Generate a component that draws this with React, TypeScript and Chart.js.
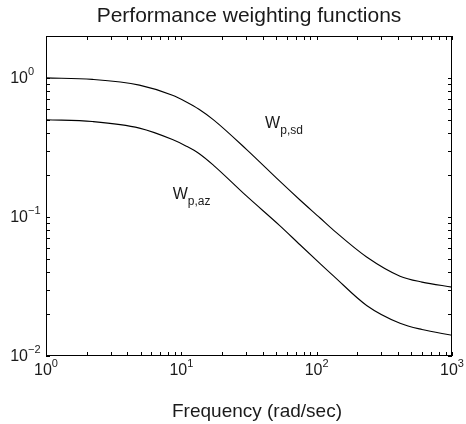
import React, { useEffect, useRef } from "react";
import { Chart, registerables } from "chart.js";

Chart.register(...registerables);

// Frequency samples (rad/sec)
const FREQ = [1, 2.2, 4.9, 8.6, 10.8, 13.5, 17.3, 30.4, 53.6, 75.3, 106, 133, 234, 413, 600, 1000];
// W_p,sd magnitude
const W_SD = [1.0, 0.975, 0.887, 0.75, 0.674, 0.595, 0.499, 0.305, 0.18, 0.1324, 0.0982, 0.0804, 0.0515, 0.0375, 0.034, 0.0313];
// W_p,az magnitude
const W_AZ = [0.5, 0.485, 0.435, 0.36, 0.324, 0.286, 0.235, 0.141, 0.0863, 0.0631, 0.0462, 0.0377, 0.0231, 0.0172, 0.0155, 0.0141];

const X_TICK_EXP = [0, 1, 2, 3];
const Y_TICK_EXP = [-2, -1, 0];

// In-plot text labels (anchored in data coordinates)
const LABEL_MAIN = ["W", "W"];
const LABEL_SUB = ["p,sd", "p,az"];
const LABEL_X = [41.6, 8.64];
const LABEL_Y = [0.434, 0.134];

const TITLE = "Performance weighting functions";
const X_LABEL = "Frequency (rad/sec)";

const FONT = "'Liberation Sans', Arial, Helvetica, sans-serif";
const TEXT_COLOR = "#1a1a1a";

const decorPlugin = {
  id: "decor",
  afterDraw(chart: any) {
    const { ctx, chartArea } = chart;
    const { left, right, top, bottom } = chartArea;
    const xs = chart.scales.x;
    const ys = chart.scales.y;
    ctx.save();
    ctx.strokeStyle = "#000";
    ctx.lineWidth = 1;
    ctx.strokeRect(Math.round(left) + 0.5, Math.round(top) + 0.5, Math.round(right - left) - 1, Math.round(bottom - top) - 1);

    const tl = 4;
    ctx.beginPath();
    for (let k = 0; k <= 3; k++) {
      for (let m = 1; m <= 9; m++) {
        const v = m * Math.pow(10, k);
        if (v > xs.max + 1e-9) continue;
        const px = Math.round(xs.getPixelForValue(v)) + 0.5;
        ctx.moveTo(px, bottom);
        ctx.lineTo(px, bottom - tl);
        ctx.moveTo(px, top);
        ctx.lineTo(px, top + tl);
      }
    }
    for (let k = -2; k <= 0; k++) {
      for (let m = 1; m <= 9; m++) {
        const v = m * Math.pow(10, k);
        if (v > ys.max + 1e-9) continue;
        const py = Math.round(ys.getPixelForValue(v)) + 0.5;
        ctx.moveTo(left, py);
        ctx.lineTo(left + tl, py);
        ctx.moveTo(right, py);
        ctx.lineTo(right - tl, py);
      }
    }
    ctx.stroke();

    ctx.fillStyle = TEXT_COLOR;
    ctx.textBaseline = "alphabetic";
    const mainFont = `16px ${FONT}`;
    const supFont = `11px ${FONT}`;

    // x tick labels
    X_TICK_EXP.forEach((e) => {
      const px = xs.getPixelForValue(Math.pow(10, e));
      ctx.font = mainFont;
      const w1 = ctx.measureText("10").width;
      ctx.font = supFont;
      const sup = e < 0 ? "\u2212" + Math.abs(e) : String(e);
      const w2 = ctx.measureText(sup).width;
      const x0 = px - (w1 + w2) / 2;
      const base = bottom + 19;
      ctx.font = mainFont;
      ctx.textAlign = "left";
      ctx.fillText("10", x0, base);
      ctx.font = supFont;
      ctx.fillText(sup, x0 + w1, base - 8);
    });

    // y tick labels
    Y_TICK_EXP.forEach((e) => {
      const py = ys.getPixelForValue(Math.pow(10, e));
      ctx.font = mainFont;
      const w1 = ctx.measureText("10").width;
      const x0 = left - 18 - w1;
      const base = py + 5;
      ctx.textAlign = "left";
      ctx.fillText("10", x0, base);
      ctx.font = supFont;
      const sup = e < 0 ? "\u2212" + Math.abs(e) : String(e);
      ctx.fillText(sup, x0 + w1, base - 8);
    });

    // in-plot labels
    LABEL_MAIN.forEach((t, i) => {
      const px = xs.getPixelForValue(LABEL_X[i]);
      const py = ys.getPixelForValue(LABEL_Y[i]);
      ctx.font = `16px ${FONT}`;
      ctx.textAlign = "left";
      ctx.fillText(t, px, py);
      const w = ctx.measureText(t).width;
      ctx.font = `12px ${FONT}`;
      ctx.fillText(LABEL_SUB[i], px + w, py + 6);
    });

    // title
    const cx = (left + right) / 2;
    ctx.font = `21px ${FONT}`;
    ctx.textAlign = "center";
    ctx.fillText(TITLE, cx, 22);

    // x label
    ctx.font = `19px ${FONT}`;
    ctx.fillText(X_LABEL, cx + 8, 417);
    ctx.restore();
  },
};

export default function App() {
  const ref = useRef<HTMLCanvasElement | null>(null);
  useEffect(() => {
    document.body.style.margin = "0";
    if (!ref.current) return;
    const chart = new Chart(ref.current, {
      type: "line",
      data: {
        datasets: [
          {
            label: "W_p,sd",
            data: FREQ.map((f, i) => ({ x: f, y: W_SD[i] })),
            borderColor: "#000",
            borderWidth: 1.1,
            pointRadius: 0,
            cubicInterpolationMode: "monotone",
            fill: false,
          },
          {
            label: "W_p,az",
            data: FREQ.map((f, i) => ({ x: f, y: W_AZ[i] })),
            borderColor: "#000",
            borderWidth: 1.1,
            pointRadius: 0,
            cubicInterpolationMode: "monotone",
            fill: false,
          },
        ],
      },
      options: {
        animation: false,
        responsive: false,
        devicePixelRatio: 1,
        layout: { padding: { top: 36, right: 14, left: 0, bottom: 0 } },
        plugins: { legend: { display: false }, tooltip: { enabled: false }, title: { display: false } },
        scales: {
          x: {
            type: "logarithmic",
            min: 1,
            max: 1000,
            grid: { display: false },
            border: { display: false },
            ticks: { display: false },
            afterFit: (s: any) => {
              s.height = 68;
            },
          },
          y: {
            type: "logarithmic",
            min: 0.01,
            max: 2,
            grid: { display: false },
            border: { display: false },
            ticks: { display: false },
            afterFit: (s: any) => {
              s.width = 46;
            },
          },
        },
      } as any,
      plugins: [decorPlugin],
    });
    return () => chart.destroy();
  }, []);
  return (
    <div style={{ position: "absolute", left: 0, top: 0, width: 466, height: 424, background: "#fff" }}>
      <canvas ref={ref} width={466} height={424} style={{ width: 466, height: 424 }} />
    </div>
  );
}
